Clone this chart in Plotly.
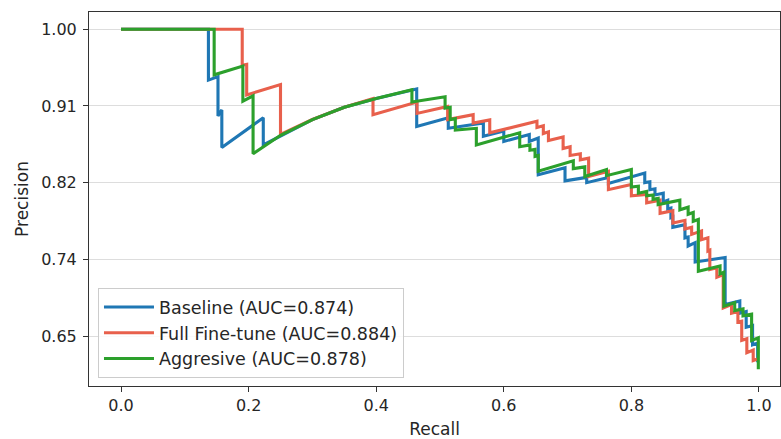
import plotly.graph_objects as go

# ---- data (recall, precision) vertices ----
baseline_pts = [
    (0.000, 1.000), (0.137, 1.000), (0.137, 0.942), (0.152, 0.946), (0.152, 0.901),
    (0.158, 0.908), (0.158, 0.865), (0.223, 0.899), (0.223, 0.868), (0.300, 0.897),
    (0.350, 0.911), (0.400, 0.921), (0.4635, 0.932), (0.4635, 0.889), (0.513, 0.899),
    (0.513, 0.887), (0.568, 0.893), (0.568, 0.878), (0.600, 0.884), (0.600, 0.872),
    (0.640, 0.880), (0.640, 0.872), (0.654, 0.876), (0.654, 0.834), (0.696, 0.842),
    (0.696, 0.827), (0.730, 0.831), (0.730, 0.825), (0.764, 0.831), (0.764, 0.824),
    (0.821, 0.836), (0.821, 0.825), (0.829, 0.826), (0.829, 0.817), (0.837, 0.818),
    (0.837, 0.811), (0.850, 0.813), (0.850, 0.803), (0.857, 0.805), (0.857, 0.795),
    (0.862, 0.796), (0.862, 0.785), (0.865, 0.786), (0.865, 0.774), (0.884, 0.777),
    (0.884, 0.762), (0.889, 0.763), (0.889, 0.7527), (0.900, 0.7565), (0.900, 0.7345),
    (0.947, 0.7395), (0.947, 0.686), (0.970, 0.690), (0.970, 0.676), (0.980, 0.678),
    (0.980, 0.660), (0.990, 0.662), (0.990, 0.640), (0.998, 0.642), (0.998, 0.620),
]

fullft_pts = [
    (0.000, 1.000), (0.190, 1.000), (0.190, 0.959), (0.197, 0.960), (0.197, 0.925),
    (0.250, 0.937), (0.250, 0.880), (0.300, 0.897), (0.350, 0.911), (0.395, 0.921),
    (0.395, 0.9025), (0.464, 0.917), (0.464, 0.904), (0.512, 0.912), (0.512, 0.897),
    (0.552, 0.9025), (0.552, 0.893), (0.578, 0.8965), (0.578, 0.882), (0.652, 0.895),
    (0.652, 0.888), (0.662, 0.890), (0.662, 0.881), (0.670, 0.883), (0.670, 0.873),
    (0.693, 0.877), (0.693, 0.864), (0.704, 0.866), (0.704, 0.856), (0.720, 0.858),
    (0.720, 0.851), (0.733, 0.853), (0.733, 0.832), (0.764, 0.838), (0.764, 0.817),
    (0.800, 0.823), (0.800, 0.810), (0.824, 0.8115), (0.824, 0.802), (0.845, 0.805),
    (0.845, 0.790), (0.865, 0.793), (0.865, 0.779), (0.884, 0.782), (0.884, 0.772),
    (0.8945, 0.774), (0.8945, 0.766), (0.910, 0.770), (0.910, 0.760), (0.920, 0.762),
    (0.920, 0.747), (0.923, 0.748), (0.923, 0.726), (0.934, 0.728), (0.934, 0.717),
    (0.944, 0.720), (0.944, 0.682), (0.957, 0.686), (0.957, 0.676), (0.967, 0.678),
    (0.967, 0.666), (0.973, 0.667), (0.973, 0.645), (0.981, 0.647), (0.981, 0.631),
    (0.991, 0.634), (0.991, 0.622), (0.999, 0.624),
]

aggressive_pts = [
    (0.000, 1.000), (0.146, 1.000), (0.146, 0.948), (0.191, 0.958), (0.191, 0.918),
    (0.207, 0.924), (0.207, 0.858), (0.250, 0.879), (0.300, 0.897), (0.350, 0.911),
    (0.400, 0.921), (0.456, 0.931), (0.456, 0.917), (0.508, 0.923), (0.508, 0.910),
    (0.516, 0.911), (0.516, 0.897), (0.524, 0.898), (0.524, 0.885), (0.557, 0.887),
    (0.557, 0.868), (0.625, 0.882), (0.625, 0.866), (0.641, 0.868), (0.641, 0.862),
    (0.649, 0.863), (0.649, 0.855), (0.654, 0.856), (0.654, 0.838), (0.709, 0.850),
    (0.709, 0.841), (0.727, 0.843), (0.727, 0.832), (0.761, 0.840), (0.761, 0.833),
    (0.800, 0.840), (0.800, 0.820), (0.811, 0.821), (0.811, 0.813), (0.824, 0.815),
    (0.824, 0.810), (0.834, 0.811), (0.834, 0.806), (0.842, 0.807), (0.842, 0.800),
    (0.876, 0.805), (0.876, 0.794), (0.889, 0.797), (0.889, 0.789), (0.897, 0.791),
    (0.897, 0.781), (0.905, 0.783), (0.905, 0.724), (0.939, 0.730), (0.939, 0.721),
    (0.945, 0.723), (0.945, 0.684), (0.962, 0.688), (0.962, 0.679), (0.975, 0.681),
    (0.975, 0.673), (0.9885, 0.675), (0.9885, 0.645), (0.999, 0.648), (0.999, 0.612),
]

series_names = ["Baseline (AUC=0.874)", "Full Fine-tune (AUC=0.884)", "Aggresive (AUC=0.878)"]
series_colors = ["#1f77b4", "#e8604c", "#2ca02c"]

x_tickvals = [0.0, 0.2, 0.4, 0.6, 0.8, 1.0]
x_ticktext = ["0.0", "0.2", "0.4", "0.6", "0.8", "1.0"]
y_tickvals = [0.65, 0.7375, 0.825, 0.9125, 1.0]
y_ticktext = ["0.65", "0.74", "0.82", "0.91", "1.00"]

FONT = "DejaVu Sans"
TXT = "#262626"

fig = go.Figure()
for pts, name, color in zip([baseline_pts, fullft_pts, aggressive_pts], series_names, series_colors):
    r, p = zip(*pts)
    fig.add_trace(go.Scatter(
        x=list(r), y=list(p), mode="lines", name=name,
        line=dict(color=color, width=3.1),
    ))

fig.update_layout(
    width=781, height=439,
    margin=dict(l=89, r=1, t=12, b=53, autoexpand=False),
    paper_bgcolor="white", plot_bgcolor="white",
    font=dict(family=FONT, size=16, color=TXT),
    showlegend=True,
    legend=dict(
        x=0.013, y=0.021, xanchor="left", yanchor="bottom",
        bgcolor="rgba(255,255,255,0.85)", bordercolor="#cccccc", borderwidth=1,
        font=dict(family=FONT, size=17.5, color=TXT),
        tracegroupgap=0, itemwidth=50,
    ),
)

fig.update_xaxes(
    range=[-0.0502, 1.033], automargin=False,
    tickvals=x_tickvals, ticktext=x_ticktext,
    showgrid=False, zeroline=False,
    showline=True, mirror=True, linecolor="#333333", linewidth=1,
    ticks="outside", ticklen=5, tickcolor="#333333", tickwidth=1,
    title=dict(text="Recall", font=dict(family=FONT, size=17), standoff=10),
    tickfont=dict(family=FONT, size=16, color=TXT),
)
fig.update_yaxes(
    range=[0.593, 1.0197], automargin=False,
    tickvals=y_tickvals, ticktext=y_ticktext,
    showgrid=True, gridcolor="#dddddd", gridwidth=1, zeroline=False,
    showline=True, mirror=True, linecolor="#333333", linewidth=1,
    ticks="outside", ticklen=5, tickcolor="#333333", tickwidth=1,
    ticklabelstandoff=3,
    title=dict(text="Precision", font=dict(family=FONT, size=17), standoff=8),
    tickfont=dict(family=FONT, size=16, color=TXT),
)

fig.write_html("out.html", config={"displayModeBar": False},
               post_script="document.body.style.margin='0px';")
